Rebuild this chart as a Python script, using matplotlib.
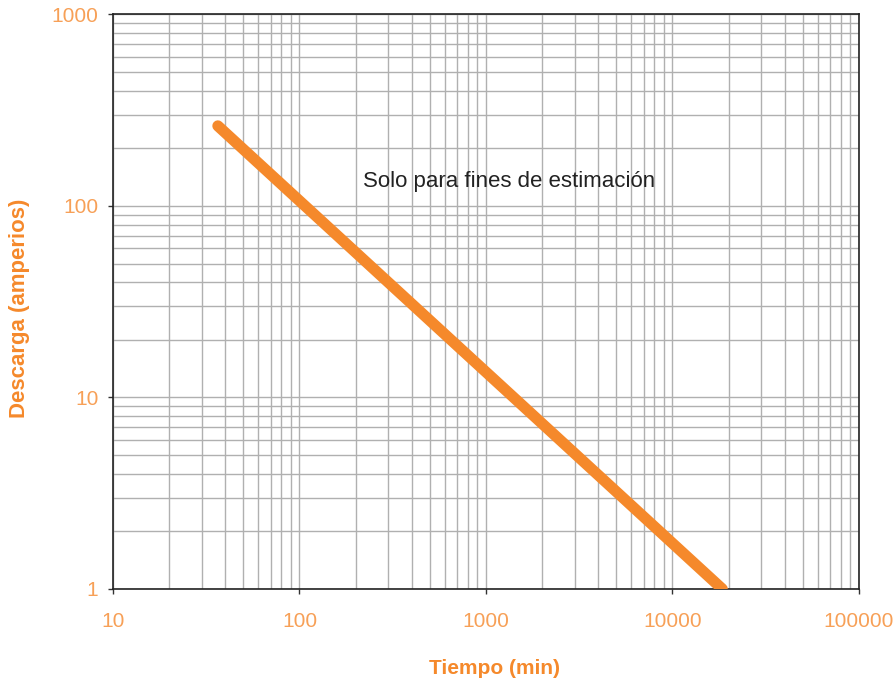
import numpy as np
import matplotlib.pyplot as plt
from matplotlib import font_manager
from matplotlib.ticker import LogLocator, FixedLocator, FixedFormatter, NullFormatter

# data (log-log straight line)
tiempo = [36.5, 18500]
descarga = [262, 1]
x_ticks = [10, 100, 1000, 10000, 100000]
x_labels = ["10", "100", "1000", "10000", "100000"]
y_ticks = [1, 10, 100, 1000]
y_labels = ["1", "10", "100", "1000"]

names = {f.name for f in font_manager.fontManager.ttflist}
fam = "Liberation Sans Narrow" if "Liberation Sans Narrow" in names else "Liberation Sans"
plt.rcParams['font.family'] = [fam, 'DejaVu Sans']

orange = "#F5892B"
label_orange = "#F7A057"

fig = plt.figure(figsize=(8.96, 6.86), dpi=100)
ax = fig.add_axes([0.1261, 0.1414, 0.8326, 0.8375])

ax.set_xscale('log')
ax.set_yscale('log')
ax.set_xlim(10, 100000)
ax.set_ylim(1, 1000)

ax.xaxis.set_major_locator(FixedLocator(x_ticks))
ax.xaxis.set_major_formatter(FixedFormatter(x_labels))
ax.yaxis.set_major_locator(FixedLocator(y_ticks))
ax.yaxis.set_major_formatter(FixedFormatter(y_labels))
ax.xaxis.set_minor_locator(LogLocator(base=10, subs=np.arange(2, 10)))
ax.yaxis.set_minor_locator(LogLocator(base=10, subs=np.arange(2, 10)))
ax.xaxis.set_minor_formatter(NullFormatter())
ax.yaxis.set_minor_formatter(NullFormatter())

ax.grid(True, which='both', color='#b0b0b0', linewidth=1.0)
ax.set_axisbelow(True)

ax.plot(tiempo, descarga, color=orange, linewidth=8, solid_capstyle='round', zorder=3)

ax.text(0.335, 0.71, "Solo para fines de estimación", transform=ax.transAxes,
        fontsize=16, color='#222222', va='center', ha='left')

ax.tick_params(which='major', direction='out', length=3.6, width=1, color='#333333',
               labelsize=15, labelcolor=label_orange)
ax.tick_params(axis='x', which='major', pad=13)
ax.tick_params(axis='y', which='major', pad=7)
ax.tick_params(which='minor', length=0)

for s in ax.spines.values():
    s.set_color('#222222')
    s.set_linewidth(1.2)

fig.text(494 / 896, 1 - 668 / 686, "Tiempo (min)", fontsize=15, fontweight='bold',
         color=orange, ha='center', va='center')
fig.text(20 / 896, 1 - 308 / 686, "Descarga (amperios)", fontsize=16, fontweight='bold',
         color=orange, ha='center', va='center', rotation=90)

fig.savefig("out.png", dpi=100)
